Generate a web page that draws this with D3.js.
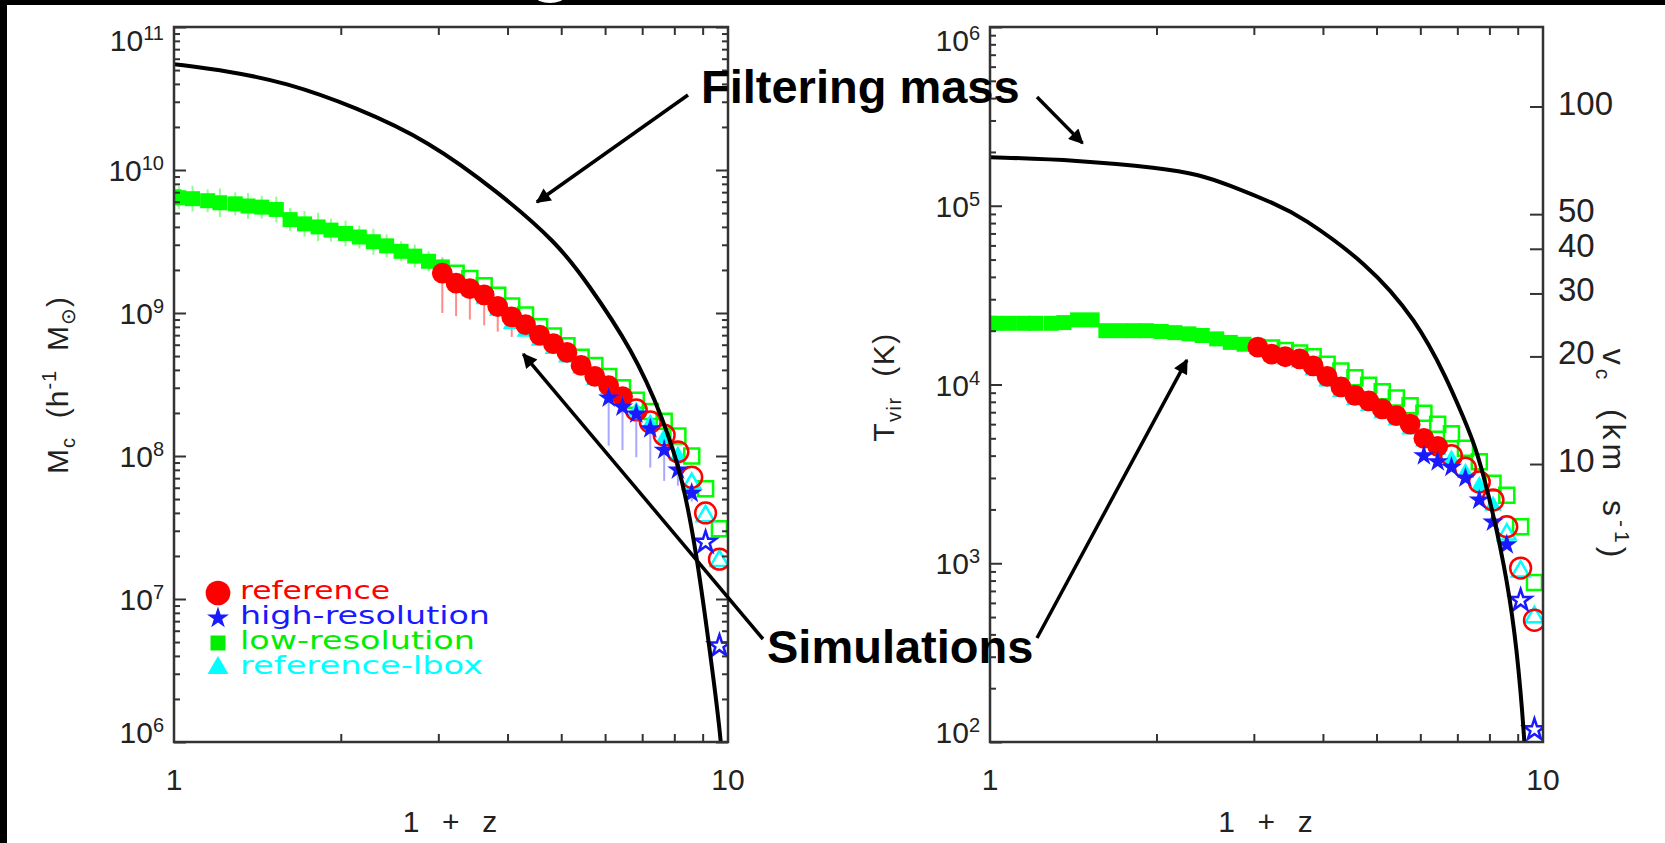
<!DOCTYPE html>
<html><head><meta charset="utf-8">
<script src="https://cdn.jsdelivr.net/npm/d3@7/dist/d3.min.js"></script>
<style>html,body{margin:0;padding:0;background:#fff;overflow:hidden}svg{display:block}</style>
</head><body>
<script>
// ---------------- data ----------------
const zSnap = [1.00,1.02,1.08,1.15,1.21,1.29,1.36,1.44,1.53,1.62,1.72,1.82,1.92,2.04,2.16,2.29,2.42,2.57,2.72,2.88,
               3.05,3.23,3.42,3.63,3.84,4.07,4.31,4.57,4.84,5.12,5.43,5.75,6.09,6.45,6.83,7.24,7.67,8.12,8.60,9.11,9.65];
const zSim  = zSnap.slice(20);   // reference / reference-lbox outputs
const zHigh = zSnap.slice(32);   // high-resolution outputs

// left panel: characteristic mass M_c
const mcLowRes = [6.5e9,6.4e9,6.3e9,6.1e9,5.9e9,5.8e9,5.6e9,5.5e9,5.3e9,4.5e9,4.2e9,4.0e9,3.8e9,3.6e9,3.4e9,3.15e9,2.95e9,2.7e9,2.5e9,2.3e9,2.1e9,
                  1.9e9,1.74e9,1.55e9,1.33e9,1.12e9,9.7e8,8.0e8,6.9e8,5.9e8,4.9e8,4.3e8,3.6e8,3.0e8,2.45e8,2.05e8,1.75e8,1.38e8,1.0e8,5.9e7,3.1e7];
const mcLowErr = [0.09,0.08,0.09,0.08,0.10,0.08,0.09,0.08,0.09,0.08,0.09,0.10,0.08,0.09,0.08,0.09,0.08,0.07,0.08,0.07,0.07]; // dex
const mcRef    = [1.9e9,1.62e9,1.48e9,1.34e9,1.11e9,9.4e8,8.3e8,7.0e8,6.1e8,5.3e8,4.3e8,3.6e8,3.1e8,2.6e8,2.1e8,1.73e8,1.4e8,1.07e8,7.1e7,4.0e7,1.9e7];
const mcRefLo  = [1.0e9,9.5e8,9.0e8,8.2e8,7.4e8,6.8e8];
const mcRefHi  = [2.4e9,1.9e9,1.7e9,1.5e9,1.25e9,1.05e9];
const mcLbox   = [1.85e9,1.58e9,1.42e9,1.25e9,1.04e9,8.4e8,7.4e8,6.4e8,5.6e8,4.9e8,4.1e8,3.4e8,2.95e8,2.5e8,2.05e8,1.68e8,1.33e8,1.0e8,6.4e7,3.8e7,1.85e7];
const mcHigh   = [2.55e8,2.2e8,1.97e8,1.55e8,1.1e8,8.0e7,5.5e7,2.5e7,4.7e6];
const mcHighLo = [1.18e8,1.1e8,9.8e7,8.3e7,6.7e7,6.2e7,4.8e7];
const mcHighHi = [3.0e8,2.6e8,2.3e8,1.8e8,1.3e8,9.5e7,6.3e7];
const mcFilter = [[1.0,5.5e10],[1.26,4.9e10],[1.59,4.1e10],[2.13,2.75e10],[2.88,1.6e10],[3.87,6.9e9],[4.91,3.1e9],[5.56,1.65e9],
                  [6.73,5.5e8],[7.63,1.85e8],[8.29,6.9e7],[8.79,1.96e7],[9.16,6.2e6],[9.75,1.0e6],[9.85,4.0e5]];

// right panel: virial temperature T_vir
const tvLowRes = [2.2e4,2.2e4,2.2e4,2.2e4,2.2e4,2.2e4,2.22e4,2.3e4,2.3e4,2.0e4,2.0e4,2.0e4,2.0e4,1.98e4,1.95e4,1.92e4,1.88e4,1.8e4,1.72e4,1.68e4,1.64e4,
                  1.6e4,1.55e4,1.5e4,1.43e4,1.3e4,1.19e4,1.09e4,9.9e3,9.1e3,8.4e3,7.6e3,6.9e3,6.0e3,5.3e3,4.4e3,3.7e3,2.8e3,2.4e3,1.6e3,7.8e2];
const tvRef    = [1.62e4,1.48e4,1.43e4,1.39e4,1.27e4,1.11e4,9.7e3,8.7e3,8.1e3,7.3e3,6.7e3,6.0e3,5.0e3,4.5e3,4.0e3,3.4e3,2.85e3,2.26e3,1.6e3,9.4e2,4.8e2];
const tvLbox   = [1.58e4,1.44e4,1.38e4,1.33e4,1.2e4,1.04e4,9.1e3,8.2e3,7.6e3,6.9e3,6.3e3,5.6e3,4.8e3,4.3e3,3.8e3,3.2e3,2.7e3,2.1e3,1.45e3,9.0e2,5.0e2];
const tvHigh   = [4.0e3,3.7e3,3.45e3,3.0e3,2.26e3,1.7e3,1.27e3,6.2e2,1.17e2];
const tvFilter = [[1.0,1.87e5],[1.44,1.80e5],[2.03,1.63e5],[2.40,1.49e5],[2.68,1.32e5],[3.34,1.0e5],[3.63,8.8e4],[4.80,4.8e4],
                  [5.90,2.3e4],[6.71,1.07e4],[7.17,6.6e3],[7.60,4.3e3],[8.13,1.9e3],[8.61,810],[8.97,340],[9.27,100],[9.33,60]];

const filledUpTo = {low:3.05, ref:6.45, high:8.60, lbox:8.12};
const xTickVals  = [2,3,4,5,6,7,8,9];
const xLabelVals = [1,10];
const mcDecades  = [1e6,1e7,1e8,1e9,1e10,1e11];
const tvDecades  = [1e2,1e3,1e4,1e5,1e6];
const minorMult  = [2,3,4,5,6,7,8,9];
const vcTickVals = [10,20,30,40,50,100];
const TV_COEF    = 35.9;   // T_vir = 35.9 (v_c / km s^-1)^2 K
const legendLabels = ['reference','high-resolution','low-resolution','reference-lbox'];
const legendColors = ['#ff0000','#1a1aff','#00ee00','#00ffff'];
const legendSyms   = ['circle','star','square','triangle'];

// annotation arrow tips in data units
const tipFilterL = [4.52, 5.97e9];
const tipFilterR = [1.47, 2.24e5];
const tipSimL    = [4.27, 5.16e8];
const tipSimR    = [2.27, 1.37e4];

// ---------------- drawing ----------------
const W = 1665, H = 843;
const FONT = "'Liberation Sans', Arial, Helvetica, sans-serif";
const AX = '#333';
const svg = d3.select('body').append('svg').attr('width', W).attr('height', H);
svg.append('rect').attr('width', W).attr('height', H).attr('fill', '#000');
svg.append('rect').attr('x', 7).attr('y', 5).attr('width', W - 7).attr('height', H - 5).attr('fill', '#fff');
svg.append('ellipse').attr('cx', 550).attr('cy', -3).attr('rx', 14).attr('ry', 6).attr('fill', '#fff');
const defs = svg.append('defs');
defs.append('marker').attr('id', 'ah').attr('viewBox', '0 0 10 10').attr('refX', 9).attr('refY', 5)
  .attr('markerWidth', 5.5).attr('markerHeight', 4.2).attr('orient', 'auto')
  .append('path').attr('d', 'M0,0L10,5L0,10Z').attr('fill', '#000');

const symType = {circle: d3.symbolCircle, star: d3.symbolStar, square: d3.symbolSquare, triangle: d3.symbolTriangle};
const symSize = {circle: 340, star: 140, square: 225, triangle: 135};

function makePanel(id, box, yDomain) {
  const X = d3.scaleLog().domain([1, 10]).range([box.x0, box.x1]);
  const Y = d3.scaleLog().domain(yDomain).range([box.y1, box.y0]);
  defs.append('clipPath').attr('id', 'clip-' + id).append('rect')
    .attr('x', box.x0).attr('y', box.y0).attr('width', box.x1 - box.x0).attr('height', box.y1 - box.y0);
  const g = svg.append('g');
  const plot = g.append('g').attr('clip-path', `url(#clip-${id})`);
  return {X, Y, g, plot, box};
}

function tickSet(g, axisFn, scale, values, size, transform) {
  g.append('g').attr('transform', transform)
    .call(axisFn(scale).tickValues(values).tickSize(size).tickFormat(''))
    .call(s => s.select('.domain').remove())
    .call(s => s.selectAll('line').attr('stroke', AX).attr('stroke-width', 2));
}

function frameAndTicks(P, decades, rightSide) {
  const {X, Y, g, box} = P;
  const minors = [];
  decades.slice(0, -1).forEach(d => minorMult.forEach(m => minors.push(d * m)));
  tickSet(g, d3.axisBottom, X, xTickVals, -8, `translate(0,${box.y1})`);
  tickSet(g, d3.axisTop, X, xTickVals, -8, `translate(0,${box.y0})`);
  tickSet(g, d3.axisLeft, Y, decades, -12, `translate(${box.x0},0)`);
  tickSet(g, d3.axisLeft, Y, minors, -6, `translate(${box.x0},0)`);
  if (rightSide) {
    tickSet(g, d3.axisRight, Y, decades, -12, `translate(${box.x1},0)`);
    tickSet(g, d3.axisRight, Y, minors, -6, `translate(${box.x1},0)`);
  }
  g.append('rect').attr('x', box.x0).attr('y', box.y0).attr('width', box.x1 - box.x0).attr('height', box.y1 - box.y0)
    .attr('fill', 'none').attr('stroke', AX).attr('stroke-width', 2.5);
  decades.forEach(v => {
    const cy = Math.min(Math.max(Y(v), box.y0 + 13), box.y1 - 10);
    const t = g.append('text').attr('x', box.x0 - 10).attr('y', cy + 11).attr('text-anchor', 'end')
      .attr('font-family', FONT).attr('font-size', 30).attr('fill', '#222');
    t.append('tspan').text('10');
    t.append('tspan').attr('font-size', 20).attr('dy', -11).text(String(Math.round(Math.log10(v))));
  });
  xLabelVals.forEach(v => {
    g.append('text').attr('x', X(v)).attr('y', 790).attr('text-anchor', 'middle')
      .attr('font-family', FONT).attr('font-size', 30).attr('fill', '#222').text(String(v));
  });
  g.append('text').attr('x', (box.x0 + box.x1) / 2).attr('y', 832).attr('text-anchor', 'middle')
    .attr('font-family', FONT).attr('font-size', 30).attr('fill', '#222')
    .style('white-space', 'pre').attr('letter-spacing', 2).text('1  +  z');
}

function errBars(P, zs, lo, hi, color) {
  P.plot.append('g').selectAll('line').data(lo.map((l, i) => ({z: zs[i], lo: l, hi: hi[i]}))).join('line')
    .attr('x1', d => P.X(d.z)).attr('x2', d => P.X(d.z))
    .attr('y1', d => P.Y(d.lo)).attr('y2', d => P.Y(d.hi))
    .attr('stroke', color).attr('stroke-width', 2);
}

function marks(P, zs, vs, type, color, limit) {
  const sym = d3.symbol().type(symType[type]).size(symSize[type]);
  P.plot.append('g').selectAll('path').data(zs.map((z, i) => ({z, v: vs[i]}))).join('path')
    .attr('transform', d => `translate(${P.X(d.z)},${P.Y(d.v)})`)
    .attr('d', sym)
    .attr('fill', d => d.z <= limit ? color : 'none')
    .attr('stroke', color)
    .attr('stroke-width', d => d.z <= limit ? 0 : 2.5);
}

function filterLine(P, pts) {
  const line = d3.line().x(d => P.X(d[0])).y(d => P.Y(d[1])).curve(d3.curveBasis);
  P.plot.append('path').datum(pts).attr('d', line).attr('fill', 'none')
    .attr('stroke', '#000').attr('stroke-width', 4);
}

// ---- left panel
const PL = makePanel('L', {x0: 174, x1: 728, y0: 27, y1: 742}, [1e6, 1e11]);
errBars(PL, zSnap, mcLowErr.map((e, i) => mcLowRes[i] / Math.pow(10, e)), mcLowErr.map((e, i) => mcLowRes[i] * Math.pow(10, e)), '#8cff8c');
errBars(PL, zSim, mcRefLo, mcRefHi, '#ff8c8c');
marks(PL, zSnap, mcLowRes, 'square', '#00ff00', filledUpTo.low);
marks(PL, zSim, mcLbox, 'triangle', '#00ffff', filledUpTo.lbox);
marks(PL, zSim, mcRef, 'circle', '#ff0000', filledUpTo.ref);
errBars(PL, zHigh, mcHighLo, mcHighHi, 'rgba(110,110,255,0.6)');
marks(PL, zHigh, mcHigh, 'star', '#1a1aff', filledUpTo.high);
filterLine(PL, mcFilter);
frameAndTicks(PL, mcDecades, true);

// legend
legendLabels.forEach((lab, i) => {
  const cy = 593 + i * 25;
  const sizes = {circle: 480, star: 150, square: 225, triangle: 190};
  svg.append('path').attr('transform', `translate(218,${cy})`)
    .attr('d', d3.symbol().type(symType[legendSyms[i]]).size(sizes[legendSyms[i]]))
    .attr('fill', legendColors[i]);
  const widths = [150, 250, 235, 243];
  svg.append('text').attr('x', 240).attr('y', cy + 6).attr('font-family', "'DejaVu Sans', sans-serif")
    .attr('font-size', 24).attr('fill', legendColors[i])
    .attr('textLength', widths[i]).attr('lengthAdjust', 'spacingAndGlyphs').text(lab);
});

// left y title
{
  const t = svg.append('text').attr('transform', 'translate(68,385) rotate(-90)').attr('text-anchor', 'middle')
    .attr('font-family', FONT).attr('font-size', 30).attr('fill', '#222').attr('letter-spacing', 1)
    .style('white-space', 'pre');
  t.append('tspan').text('M');
  t.append('tspan').attr('font-size', 20).attr('dy', 7).text('c');
  t.append('tspan').attr('dy', -7).text('  (h');
  t.append('tspan').attr('font-size', 20).attr('dy', -12).text('-1');
  t.append('tspan').attr('dy', 12).text('  M');
  t.append('tspan').attr('font-size', 20).attr('dy', 7).text('\u2299');
  t.append('tspan').attr('dy', -7).text(')');
}

// ---- right panel
const PR = makePanel('R', {x0: 990, x1: 1543, y0: 27, y1: 742}, [1e2, 1e6]);
marks(PR, zSnap, tvLowRes, 'square', '#00ff00', filledUpTo.low);
marks(PR, zSim, tvLbox, 'triangle', '#00ffff', filledUpTo.lbox);
marks(PR, zSim, tvRef, 'circle', '#ff0000', filledUpTo.ref);
marks(PR, zHigh, tvHigh, 'star', '#1a1aff', filledUpTo.high);
filterLine(PR, tvFilter);
frameAndTicks(PR, tvDecades, false);

// right-hand v_c axis
const VC = d3.scaleLog().domain([Math.sqrt(1e2 / TV_COEF), Math.sqrt(1e6 / TV_COEF)]).range([742, 27]);
tickSet(PR.g, d3.axisRight, VC, vcTickVals, -13, `translate(1543,0)`);
vcTickVals.forEach(v => {
  PR.g.append('text').attr('x', 1558).attr('y', VC(v) + 8).attr('font-family', FONT)
    .attr('font-size', 33).attr('fill', '#222').text(String(v));
});
{
  const t = svg.append('text').attr('transform', 'translate(894,387) rotate(-90)').attr('text-anchor', 'middle')
    .attr('font-family', FONT).attr('font-size', 30).attr('fill', '#222').attr('letter-spacing', 1.5)
    .style('white-space', 'pre');
  t.append('tspan').text('T');
  t.append('tspan').attr('font-size', 20).attr('dy', 7).text('vir');
  t.append('tspan').attr('dy', -7).text('  (K)');
}
{
  const t = svg.append('text').attr('transform', 'translate(1603,455) rotate(90)').attr('text-anchor', 'middle')
    .attr('font-family', FONT).attr('font-size', 32).attr('fill', '#222').attr('letter-spacing', 4)
    .style('white-space', 'pre');
  t.append('tspan').text('v');
  t.append('tspan').attr('font-size', 21).attr('dy', 7).text('c');
  t.append('tspan').attr('dy', -7).text('  (km  s');
  t.append('tspan').attr('font-size', 21).attr('dy', -12).text('-1');
  t.append('tspan').attr('dy', 12).text(')');
}

// ---- annotations
function arrow(x1, y1, x2, y2) {
  svg.append('line').attr('x1', x1).attr('y1', y1).attr('x2', x2).attr('y2', y2)
    .attr('stroke', '#000').attr('stroke-width', 3.5).attr('marker-end', 'url(#ah)');
}
arrow(688, 95, PL.X(tipFilterL[0]), PL.Y(tipFilterL[1]));
arrow(1037, 97, PR.X(tipFilterR[0]), PR.Y(tipFilterR[1]));
arrow(763, 639, PL.X(tipSimL[0]), PL.Y(tipSimL[1]));
arrow(1037, 638, PR.X(tipSimR[0]), PR.Y(tipSimR[1]));
svg.append('text').attr('x', 701).attr('y', 103).attr('font-family', FONT).attr('font-weight', 'bold')
  .attr('font-size', 47).attr('fill', '#000').text('Filtering mass');
svg.append('text').attr('x', 767).attr('y', 663).attr('font-family', FONT).attr('font-weight', 'bold')
  .attr('font-size', 47).attr('fill', '#000').text('Simulations');
</script>
</body></html>
